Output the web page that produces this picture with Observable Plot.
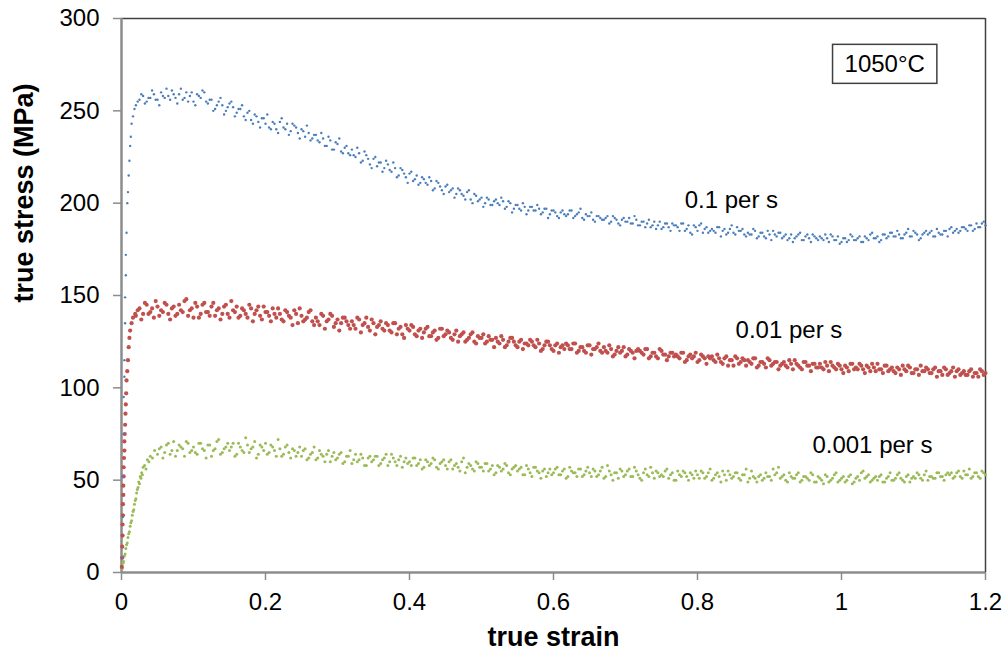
<!DOCTYPE html>
<html>
<head>
<meta charset="utf-8">
<script src="https://cdn.jsdelivr.net/npm/d3@7"></script>
<script src="https://cdn.jsdelivr.net/npm/@observablehq/plot@0.6"></script>
<style>
  html, body { margin: 0; padding: 0; background: #fff; }
  #chart { width: 1005px; height: 655px; }
</style>
</head>
<body>
<div id="chart"></div>
<script>
// ---- axis ticks ----
const xTicks = [0, 0.2, 0.4, 0.6, 0.8, 1, 1.2];
const yTicks = [0, 50, 100, 150, 200, 250, 300];
const strainStep = 0.005;

// ---- series: 0.1 per s (blue) ----
const blueRiseStrain = [0.001, 0.002, 0.002, 0.003, 0.003, 0.004, 0.004, 0.005, 0.005, 0.006, 0.006, 0.007, 0.008, 0.009, 0.010, 0.011, 0.012, 0.013, 0.014, 0.016, 0.018];
const blueRiseStress = [8, 30, 52, 75, 95, 106, 115, 135, 149, 161, 172, 184, 200, 206, 215, 223, 231, 236, 243, 247, 251];
const blueStart = 0.02;
const blueStress = [
  253, 256, 258, 255, 257, 259, 256, 260, 257, 258,
  261, 257, 259, 256, 260, 258, 255, 259, 257, 260,
  254, 256, 251, 255, 253, 250, 254, 252, 249, 251,
  247, 249, 245, 248, 244, 246, 243, 241, 244, 240,
  244, 241, 243, 239, 242, 238, 240, 236, 238, 235,
  237, 233, 235, 231, 234, 229, 232, 228, 230, 227,
  229, 225, 227, 223, 226, 221, 224, 220, 222, 219,
  221, 217, 219, 215, 218, 214, 216, 212, 215, 211,
  213, 210, 212, 208, 211, 207, 209, 206, 208, 205,
  207, 204, 206, 202, 205, 201, 203, 200, 202, 199,
  202, 199, 201, 198, 200, 197, 199, 196, 198, 196,
  198, 196, 197, 195, 197, 194, 196, 193, 195, 194,
  194, 196, 193, 195, 192, 194, 193, 191, 193, 192,
  191, 193, 190, 192, 189, 191, 190, 192, 189, 191,
  188, 190, 189, 187, 190, 188, 186, 189, 187, 189,
  188, 185, 189, 186, 184, 188, 185, 189, 186, 184,
  186, 184, 187, 185, 183, 186, 184, 187, 185, 183,
  184, 183, 185, 182, 184, 181, 183, 185, 182, 184,
  182, 180, 183, 181, 183, 180, 182, 181, 183, 181,
  182, 180, 181, 183, 180, 182, 179, 181, 180, 182,
  180, 182, 179, 181, 183, 181, 182, 180, 183, 182,
  184, 182, 183, 181, 184, 182, 185, 183, 181, 184,
  183, 185, 182, 184, 183, 185, 186, 184, 186, 185,
  187, 185, 188, 186, 187, 189, 188
];
const blueStart2 = 0.0225;
const blueStress2 = [
  255, 259, 254, 257, 261, 256, 253, 258, 262, 256,
  259, 254, 262, 257, 255, 260, 253, 258, 261, 255,
  256, 250, 253, 257, 248, 252, 255, 247, 251, 253,
  245, 250, 243, 247, 241, 246, 248, 240, 243, 238,
  246, 240, 237, 243, 241, 235, 239, 242, 234, 237,
  234, 238, 231, 236, 229, 233, 235, 227, 231, 226,
  226, 230, 222, 228, 224, 219, 225, 222, 217, 223,
  218, 222, 214, 219, 216, 211, 217, 213, 210, 214,
  211, 214, 207, 212, 209, 205, 210, 207, 203, 208,
  205, 202, 207, 200, 204, 202, 198, 203, 199, 201,
  200, 203, 197, 201, 195, 199, 197, 200, 194, 198,
  196, 199, 194, 197, 192, 196, 195, 192, 196, 193,
  196, 192, 194, 197, 191, 193, 195, 190, 193, 191,
  192, 189, 193, 191, 188, 192, 190, 189, 193, 188,
  190, 187, 191, 188, 186, 190, 187, 189, 185, 188,
  187, 189, 185, 188, 183, 187, 188, 184, 187, 185,
  185, 187, 182, 186, 184, 188, 183, 185, 186, 182,
  183, 186, 181, 184, 182, 185, 180, 183, 184, 181,
  183, 181, 179, 182, 184, 180, 183, 179, 182, 180,
  181, 183, 179, 182, 180, 178, 181, 179, 183, 180,
  181, 179, 182, 180, 184, 181, 179, 183, 181, 184,
  182, 185, 181, 183, 186, 182, 184, 180, 183, 185,
  184, 182, 186, 183, 185, 182, 187, 185, 184, 187,
  186, 188, 185, 189, 187, 190
];

// ---- series: 0.01 per s (red) ----
const redRiseStrain = [0.0005, 0.001, 0.001, 0.0015, 0.0015, 0.002, 0.002, 0.0025, 0.0025, 0.003, 0.003, 0.0035, 0.004, 0.004, 0.0045, 0.005, 0.0055, 0.006, 0.0065, 0.007, 0.008, 0.009, 0.010, 0.011, 0.012, 0.014, 0.016, 0.019];
const redRiseStress = [3, 8, 14, 20, 26, 31, 37, 42, 47, 52, 57, 62, 66, 71, 75, 80, 86, 91, 97, 104, 109, 115, 122, 127, 131, 135, 138, 140];
const redStart = 0.02;
const redStress = [
  139, 143, 140, 145, 141, 138, 144, 142, 146, 140,
  143, 139, 145, 141, 148, 142, 138, 144, 140, 146,
  141, 144, 139, 143, 140, 145, 138, 142, 144, 139,
  142, 138, 143, 140, 144, 137, 141, 139, 143, 138,
  140, 136, 141, 138, 142, 135, 139, 137, 141, 136,
  138, 134, 139, 136, 140, 133, 137, 135, 138, 134,
  136, 132, 137, 134, 138, 131, 135, 133, 136, 131,
  134, 130, 135, 132, 129, 134, 131, 133, 128, 132,
  130, 133, 128, 131, 127, 132, 129, 130, 126, 131,
  128, 130, 126, 129, 125, 128, 127, 124, 128, 126,
  127, 124, 126, 123, 127, 125, 122, 126, 124, 123,
  125, 122, 124, 121, 125, 123, 120, 124, 122, 121,
  123, 121, 124, 120, 122, 119, 123, 121, 122, 120,
  122, 119, 121, 118, 122, 120, 117, 121, 119, 120,
  120, 118, 121, 117, 119, 116, 120, 118, 117, 119,
  118, 116, 119, 115, 118, 117, 114, 118, 116, 117,
  117, 114, 116, 113, 117, 115, 112, 116, 114, 115,
  115, 113, 116, 112, 114, 111, 115, 113, 114, 112,
  114, 111, 113, 115, 112, 110, 114, 112, 113, 111,
  113, 110, 112, 114, 111, 113, 110, 112, 109, 113,
  111, 113, 110, 112, 109, 111, 113, 110, 112, 109,
  111, 108, 110, 112, 109, 111, 108, 110, 112, 109,
  110, 108, 111, 109, 107, 110, 108, 111, 109, 107,
  109, 107, 110, 108, 106, 109, 108
];
const redStart2 = 0.0225;
const redStress2 = [
  142, 137, 146, 140, 143, 147, 139, 141, 145, 137,
  144, 140, 142, 147, 139, 143, 146, 138, 145, 141,
  139, 146, 142, 137, 144, 140, 147, 141, 138, 143,
  140, 145, 136, 142, 139, 144, 141, 136, 140, 143,
  137, 142, 139, 134, 140, 143, 136, 138, 142, 134,
  136, 140, 132, 137, 139, 135, 131, 138, 136, 132,
  134, 138, 130, 135, 133, 137, 129, 134, 132, 135,
  131, 135, 129, 133, 127, 132, 134, 129, 131, 127,
  132, 128, 130, 126, 132, 128, 131, 127, 129, 125,
  129, 125, 127, 130, 124, 127, 129, 125, 126, 122,
  125, 128, 122, 125, 127, 123, 125, 121, 124, 126,
  123, 126, 120, 123, 125, 121, 123, 119, 123, 124,
  121, 124, 119, 122, 120, 123, 118, 121, 124, 119,
  120, 123, 117, 120, 119, 122, 118, 120, 116, 121,
  119, 121, 116, 119, 117, 121, 118, 115, 119, 117,
  117, 119, 114, 117, 116, 119, 115, 117, 113, 116,
  115, 118, 114, 116, 112, 115, 117, 113, 116, 112,
  114, 116, 111, 114, 113, 116, 112, 114, 110, 113,
  112, 115, 110, 113, 111, 114, 112, 109, 113, 111,
  111, 114, 109, 112, 110, 112, 108, 111, 113, 110,
  110, 112, 108, 111, 113, 109, 110, 108, 112, 110,
  109, 111, 107, 110, 112, 108, 110, 107, 109, 111,
  108, 110, 106, 109, 111, 107, 109, 106, 110, 108,
  107, 109, 106, 108, 110, 107
];

// ---- series: 0.001 per s (green) ----
const greenRiseStrain = [0.001, 0.002, 0.003, 0.004, 0.005, 0.006, 0.007, 0.008, 0.009, 0.010, 0.011, 0.012, 0.013, 0.014, 0.015, 0.016, 0.017, 0.018, 0.019, 0.020, 0.021, 0.022, 0.023, 0.024, 0.025, 0.026, 0.027, 0.028, 0.029, 0.030, 0.032, 0.034, 0.036, 0.038, 0.040, 0.043, 0.046];
const greenRiseStress = [2, 5, 6, 9, 10, 13, 15, 16, 19, 21, 22, 25, 27, 28, 31, 33, 34, 37, 39, 40, 43, 45, 46, 49, 48, 52, 51, 54, 53, 57, 58, 56, 61, 60, 63, 62, 66];
const greenStart = 0.05;
const greenStress = [
  64, 68, 65, 70, 66, 63, 69, 67, 71, 65,
  68, 64, 70, 66, 69, 63, 67, 72, 65, 68,
  66, 70, 64, 68, 65, 69, 67, 71, 64, 68,
  70, 65, 68, 63, 67, 64, 69, 62, 66, 65,
  63, 67, 62, 65, 61, 66, 63, 64, 60, 65,
  62, 65, 60, 63, 59, 64, 61, 62, 58, 63,
  61, 63, 59, 62, 58, 64, 60, 61, 57, 62,
  60, 62, 58, 61, 57, 60, 59, 61, 56, 60,
  58, 60, 56, 59, 55, 62, 57, 58, 55, 59,
  57, 59, 55, 58, 54, 57, 56, 58, 53, 57,
  55, 57, 53, 56, 52, 57, 54, 55, 52, 56,
  54, 57, 53, 56, 52, 55, 54, 56, 52, 55,
  54, 56, 52, 55, 51, 58, 53, 54, 51, 55,
  53, 56, 52, 55, 51, 54, 53, 57, 51, 54,
  53, 55, 51, 54, 50, 53, 55, 52, 54, 51,
  53, 55, 51, 54, 50, 53, 52, 55, 50, 53,
  52, 54, 50, 53, 49, 55, 51, 52, 50, 54,
  52, 56, 54, 51, 53, 49, 52, 51, 54, 50,
  52, 50, 53, 49, 51, 48, 52, 50, 53, 49,
  51, 49, 52, 48, 51, 50, 55, 52, 49, 51,
  50, 53, 49, 52, 50, 51, 54, 50, 52, 49,
  52, 54, 51, 53, 50, 52, 51, 54, 52, 53,
  53, 51, 54, 52, 55, 53, 51, 54, 52, 55,
  53
];
const greenStart2 = 0.0525;
const greenStress2 = [
  67, 62, 69, 64, 71, 66, 68, 63, 70, 66,
  65, 70, 67, 62, 69, 66, 71, 64, 67, 70,
  68, 63, 70, 66, 73, 65, 68, 62, 69, 66,
  64, 69, 66, 72, 63, 68, 65, 67, 63, 68,
  66, 61, 64, 68, 62, 64, 60, 66, 63, 61,
  64, 59, 63, 66, 61, 60, 64, 58, 62, 60,
  63, 58, 61, 64, 60, 62, 58, 63, 60, 59,
  58, 62, 59, 56, 61, 58, 62, 57, 59, 61,
  56, 61, 58, 57, 60, 54, 59, 56, 60, 57,
  55, 59, 56, 53, 58, 55, 59, 54, 56, 58,
  56, 53, 58, 54, 57, 55, 51, 56, 54, 53,
  56, 53, 55, 51, 57, 54, 52, 56, 53, 57,
  52, 55, 53, 57, 52, 55, 50, 54, 56, 52,
  55, 52, 57, 53, 50, 56, 52, 54, 55, 52,
  52, 56, 53, 50, 55, 52, 54, 50, 53, 55,
  51, 54, 52, 56, 51, 54, 49, 53, 55, 51,
  54, 51, 53, 56, 51, 52, 49, 53, 51, 52,
  50, 53, 57, 52, 50, 54, 51, 53, 49, 52,
  51, 54, 49, 52, 50, 53, 49, 51, 54, 50,
  52, 50, 53, 49, 52, 54, 51, 53, 50, 52,
  52, 49, 51, 54, 50, 53, 51, 49, 53, 51,
  51, 53, 50, 55, 52, 51, 54, 52, 50, 54,
  54, 52, 55, 51, 53, 56, 52, 54, 51, 54
];

// ---- annotation labels ----
const seriesLabels = ["0.1 per s", "0.01 per s", "0.001 per s"];
const seriesLabelStrain = [0.847, 0.927, 1.043];
const seriesLabelStress = [201.4, 131.0, 68.8];
const tempLabel = "1050°C";
const tempLabelStrain = 1.06;
const tempLabelStress = 275;

const colors = { blue: "#4a7ebb", red: "#c0504d", green: "#9bbb59" };

function build(riseX, riseY, runs) {
  const rows = riseX.map((x, i) => ({ strain: x, stress: riseY[i] }));
  runs.forEach(([start, values]) => {
    values.forEach((v, i) => rows.push({ strain: +(start + i * strainStep).toFixed(4), stress: v }));
  });
  return rows;
}
const blueData = build(blueRiseStrain, blueRiseStress, [[blueStart, blueStress], [blueStart2, blueStress2]]);
const redData = build(redRiseStrain, redRiseStress, [[redStart, redStress], [redStart2, redStress2]]);
const greenData = build(greenRiseStrain, greenRiseStress, [[greenStart, greenStress], [greenStart2, greenStress2]]);
const labelData = seriesLabels.map((t, i) => ({ text: t, strain: seriesLabelStrain[i], stress: seriesLabelStress[i] }));

const font = "'Liberation Sans', Arial, sans-serif";

const chart = Plot.plot({
  width: 1005,
  height: 655,
  marginLeft: 121,
  marginRight: 20,
  marginTop: 18,
  marginBottom: 83,
  style: { fontFamily: font, color: "#000", background: "#fff", overflow: "visible" },
  x: { domain: [0, 1.2] },
  y: { domain: [0, 300] },
  marks: [
    Plot.axisY({ ticks: yTicks, tickSize: 8, tickPadding: 14, stroke: "#8c8c8c", strokeWidth: 1.5, fill: "#000", fontSize: 24, label: null, tickFormat: d => String(d) }),
    Plot.axisX({ ticks: xTicks, tickSize: 8, tickPadding: 12, stroke: "#8c8c8c", strokeWidth: 1.5, fill: "#000", fontSize: 24, label: null, tickFormat: d => String(d) }),
    Plot.ruleY([300], { stroke: "#404040", strokeWidth: 1.5 }),
    Plot.ruleX([1.2], { stroke: "#404040", strokeWidth: 1.5 }),
    Plot.ruleX([0], { stroke: "#8c8c8c", strokeWidth: 2.5 }),
    Plot.ruleY([0], { stroke: "#8c8c8c", strokeWidth: 2.5 }),
    Plot.dot(greenData, { x: "strain", y: "stress", r: 1.5, fill: colors.green }),
    Plot.dot(redData, { x: "strain", y: "stress", r: 2.1, fill: colors.red }),
    Plot.dot(blueData, { x: "strain", y: "stress", r: 1.2, fill: colors.blue }),
    Plot.text(labelData, { x: "strain", y: "stress", text: "text", fontSize: 24, fill: "#000", textAnchor: "middle", lineAnchor: "middle" }),
    Plot.text([tempLabel], { x: () => tempLabelStrain, y: () => tempLabelStress, text: d => d, fontSize: 24, fill: "#000", textAnchor: "middle", lineAnchor: "middle" }),
    Plot.text(["true strain"], { frameAnchor: "bottom", dy: 65, fontSize: 27, fontWeight: "bold", fill: "#000", lineAnchor: "middle" }),
    Plot.text(["true stress (MPa)"], { frameAnchor: "left", dx: -97, dy: 7, rotate: -90, fontSize: 27, fontWeight: "bold", fill: "#000", lineAnchor: "middle" })
  ]
});

document.getElementById("chart").appendChild(chart);

// frame the temperature label
const svgNS = "http://www.w3.org/2000/svg";
chart.querySelectorAll("text").forEach(t => {
  if (t.textContent === tempLabel) {
    const b = t.getBBox();
    const r = document.createElementNS(svgNS, "rect");
    r.setAttribute("x", b.x - 12);
    r.setAttribute("y", b.y - 6);
    r.setAttribute("width", b.width + 24);
    r.setAttribute("height", b.height + 12);
    r.setAttribute("fill", "none");
    r.setAttribute("stroke", "#404040");
    r.setAttribute("stroke-width", 1.5);
    if (t.getAttribute("transform")) r.setAttribute("transform", t.getAttribute("transform"));
    t.parentNode.insertBefore(r, t);
  }
});
</script>
</body>
</html>
